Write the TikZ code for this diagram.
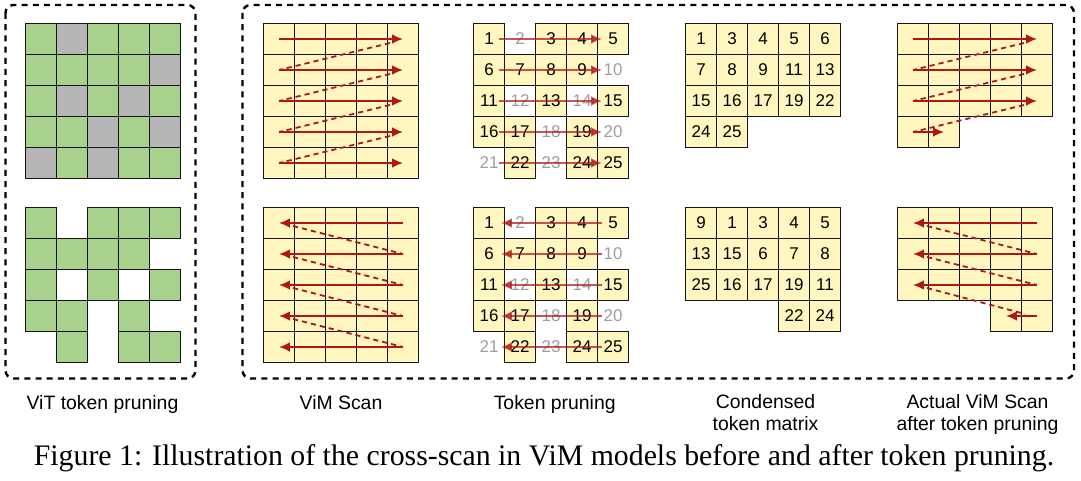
\documentclass[tikz,border=0pt]{standalone}
\usepackage{fontspec}
\setmainfont{Liberation Serif}
\setsansfont{Liberation Sans}
\usetikzlibrary{arrows.meta,calc}
\definecolor{tokyellow}{RGB}{255,246,192}
\definecolor{tokgreen}{RGB}{169,209,142}
\definecolor{tokgray}{RGB}{182,182,182}
\definecolor{scanred}{RGB}{176,22,22}
\newcommand{\cellsz}{31}
\tikzset{>={Latex[length=5.4pt,width=4.8pt]}}
\tikzset{
  slot/.style={at={({(mod(#1-1,5)+0.5)*\cellsz},{(floor((#1-1)/5)+0.5)*\cellsz})}},
  cell/.style={draw=black!92, line width=0.65pt, fill=tokyellow, minimum size=15.5pt, inner sep=0pt, font=\sffamily\fontsize{8.5}{10}\selectfont},
  vitcell/.style={cell, fill=tokgreen},
  dropcell/.style={cell, fill=tokgray},
  dropnum/.style={inner sep=0pt, minimum size=15.5pt, text=black!38, font=\sffamily\fontsize{8.5}{10}\selectfont},
  scan/.style={->, draw=scanred, line width=1pt},
  scanjump/.style={draw=scanred, line width=0.9pt, dash pattern=on 2.6pt off 2pt},
  prunescan/.style={scan, opacity=0.72},
  panelbox/.style={draw=black, line width=1.2pt, dash pattern=on 3pt off 2.6pt, rounded corners=4pt},
  panellabel/.style={font=\sffamily\fontsize{9.7}{10.6}\selectfont, align=center, anchor=base}
}

\begin{document}
\begin{tikzpicture}[x=0.5pt,y=-0.5pt]
    \useasboundingbox (0,0) rectangle (1081,481);

    \draw[panelbox] (5.5,5) rectangle (195.5,378.5);
    \draw[panelbox] (242.5,5) rectangle (1074,378.5);

    % ViT token pruning
    \begin{scope}[shift={(25.5,23.5)}]
        \foreach \k in {1,3,4,5,6,7,8,9,11,13,15,16,17,19,22,24,25}
            \node[vitcell, slot=\k] (vt-\k) {};
        \foreach \k in {2,10,12,14,18,20,21,23}
            \node[dropcell, slot=\k] (vt-\k) {};
    \end{scope}

    \begin{scope}[shift={(25.5,207.5)}]
        \foreach \k in {1,3,4,5,6,7,8,9,11,13,15,16,17,19,22,24,25}
            \node[vitcell, slot=\k] (vb-\k) {};
    \end{scope}

    % ViM scan
    \begin{scope}[shift={(263.5,23.5)}]
        \foreach \k in {1,...,25}
            \node[cell, slot=\k] (st-\k) {};
        \foreach \b/\nxt in {5/6,10/11,15/16,20/21}
            \draw[scanjump] ($(st-\b.center)+(-13,4)$) -- (st-\nxt.center);
        \foreach \a/\b in {1/5,6/10,11/15,16/20,21/25}
            \draw[scan] (st-\a.center) -- (st-\b.center);
    \end{scope}

    \begin{scope}[shift={(263.5,207.5)}]
        \foreach \k in {1,...,25}
            \node[cell, slot=\k] (sb-\k) {};
        \foreach \a/\nxt in {1/10,6/15,11/20,16/25}
            \draw[scanjump] ($(sb-\a.center)+(14,3)$) -- (sb-\nxt.center);
        \foreach \a/\b in {5/1,10/6,15/11,20/16,25/21}
            \draw[scan] (sb-\a.center) -- (sb-\b.center);
    \end{scope}

    % token pruning
    \begin{scope}[shift={(473.5,23.5)}]
        \foreach \k in {1,3,4,5,6,7,8,9,11,13,15,16,17,19,22,24,25}
            \node[cell, slot=\k] (pt-\k) {\k};
        \foreach \k in {2,10,12,14,18,20,21,23}
            \node[dropnum, slot=\k] (pt-\k) {\k};
        \foreach \a/\b in {1/5,6/10,11/15,16/20,21/25}
            \draw[prunescan] ($(pt-\a.center)+(10,0)$) -- ($(pt-\b.center)+(-11,0)$);
    \end{scope}

    \begin{scope}[shift={(473.5,207.5)}]
        \foreach \k in {1,3,4,5,6,7,8,9,11,13,15,16,17,19,22,24,25}
            \node[cell, slot=\k] (pb-\k) {\k};
        \foreach \k in {2,10,12,14,18,20,21,23}
            \node[dropnum, slot=\k] (pb-\k) {\k};
        \foreach \a/\b in {1/5,6/10,11/15,16/20,21/25}
            \draw[prunescan] ($(pb-\b.center)+(-11,0)$) -- ($(pb-\a.center)+(12,0)$);
    \end{scope}

    % condensed token matrix
    \begin{scope}[shift={(685.5,23.5)}]
        \foreach \n [count=\i] in {1,3,4,5,6,7,8,9,11,13,15,16,17,19,22,24,25}
            \node[cell, slot=\i] (ct-\i) {\n};
    \end{scope}

    \begin{scope}[shift={(685.5,207.5)}]
        \foreach \i/\n in {1/9,2/1,3/3,4/4,5/5,6/13,7/15,8/6,9/7,10/8,11/25,12/16,13/17,14/19,15/11,19/22,20/24}
            \node[cell, slot=\i] (cb-\i) {\n};
    \end{scope}

    % actual scan after pruning
    \begin{scope}[shift={(897.5,23.5)}]
        \foreach \i in {1,...,17}
            \node[cell, slot=\i] (at-\i) {};
        \foreach \b/\nxt in {5/6,10/11,15/16}
            \draw[scanjump] ($(at-\b.center)+(-13,4)$) -- (at-\nxt.center);
        \foreach \a/\b in {1/5,6/10,11/15,16/17}
            \draw[scan] (at-\a.center) -- (at-\b.center);
    \end{scope}

    \begin{scope}[shift={(897.5,207.5)}]
        \foreach \i in {1,...,15,19,20}
            \node[cell, slot=\i] (ab-\i) {};
        \foreach \a/\nxt in {1/10,6/15}
            \draw[scanjump] ($(ab-\a.center)+(14,3)$) -- (ab-\nxt.center);
        \draw[scanjump] ($(ab-11.center)+(14,3)$) -- ($(ab-20.center)+(-12,-2)$);
        \foreach \a/\b in {5/1,10/6,15/11,20/19}
            \draw[scan] (ab-\a.center) -- (ab-\b.center);
    \end{scope}

    \node[panellabel] (lab-vit) at (102.5,409) {ViT token pruning};
    \node[panellabel] (lab-vim) at (341,409) {ViM Scan};
    \node[panellabel] (lab-prune) at (554.7,409) {Token pruning};
    \node[panellabel] (lab-dense) at (765.5,430) {Condensed\\token matrix};
    \node[panellabel] (lab-actual) at (977.5,430) {Actual ViM Scan\\after token pruning};

    \node[anchor=base, font=\rmfamily\fontsize{14.9}{16}\selectfont] (fig) at (544,465)
        {Figure 1: Illustration of the cross-scan in ViM models before and after token pruning.};
\end{tikzpicture}
\end{document}
